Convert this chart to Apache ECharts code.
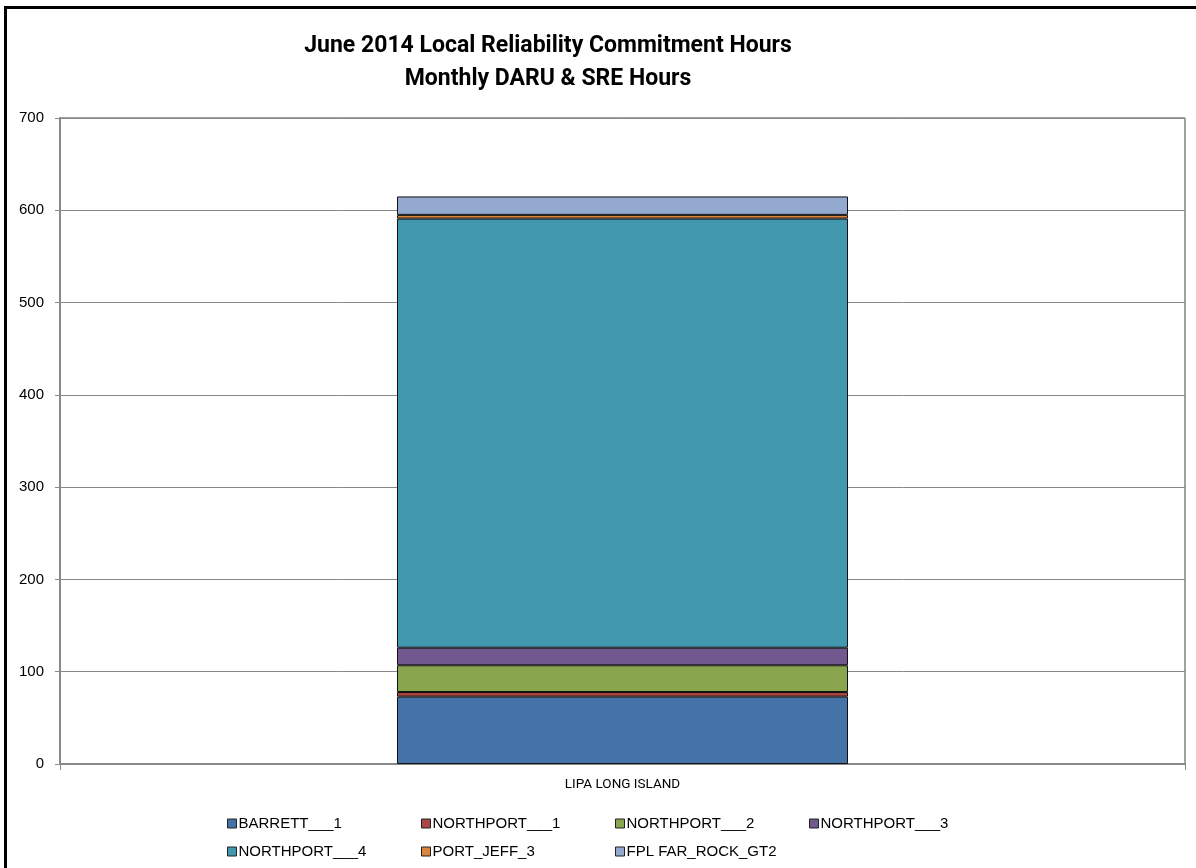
<!DOCTYPE html>
<html><head><meta charset="utf-8">
<script src="https://cdn.jsdelivr.net/npm/echarts@6/dist/echarts.min.js"></script>
<style>html,body{margin:0;padding:0;background:#fff}#c{width:1196px;height:868px}</style>
</head><body><div id="c"></div>
<script>
const categories = ['LIPA LONG ISLAND'];
const seriesNames = ['BARRETT___1','NORTHPORT___1','NORTHPORT___2','NORTHPORT___3','NORTHPORT___4','PORT_JEFF_3','FPL FAR_ROCK_GT2'];
const seriesValues = [[73],[5],[29],[19],[465],[4],[20]];
const colors = ['#4572A7','#AA4643','#89A54E','#71588F','#4198AF','#DB843D','#93A9CF'];
const yTicks = [0,100,200,300,400,500,600,700];

const chart = echarts.init(document.getElementById('c'));
const legendText = {fontFamily:'Liberation Sans, Arial, sans-serif', fontSize:15, color:'#000', padding:[0,0,0,-3]};
const legends = seriesNames.map((n,i)=>({
  data:[n], left:222 + (i%4)*194, top: i<4 ? 811 : 839,
  itemWidth:9, itemHeight:9, itemGap:0, icon:'rect',
  textStyle:legendText, itemStyle:{borderColor:'#222',borderWidth:1}
}));
chart.setOption({
  animation:false,
  color:colors,
  title:{
    text:'June 2014 Local Reliability Commitment Hours\nMonthly DARU & SRE Hours',
    left:543, top:25, textAlign:'center',
    textStyle:{fontFamily:'Roboto, sans-serif', fontWeight:'bold', fontSize:23, lineHeight:33, color:'#000'}
  },
  graphic:[{type:'rect', shape:{x:5.5,y:7.5,width:1200,height:900}, style:{fill:'none',stroke:'#000',lineWidth:3}, silent:true}],
  grid:{left:60, right:11, top:118, bottom:104, show:true, borderColor:'#444', borderWidth:1},
  legend:legends,
  xAxis:{type:'category', data:categories,
    axisLine:{lineStyle:{color:'#888',width:2}},
    axisTick:{show:true, alignWithLabel:false, length:6, lineStyle:{color:'#888'}},
    axisLabel:{fontFamily:'Roboto, sans-serif', fontSize:13.5, color:'#000', margin:14}},
  yAxis:{type:'value', min:0, max:700, interval:100,
    axisLine:{show:true, lineStyle:{color:'#888',width:2}},
    axisTick:{show:true, length:5, lineStyle:{color:'#888'}},
    axisLabel:{fontFamily:'Liberation Sans, Arial, sans-serif', fontSize:15, color:'#000', margin:16,
      formatter:v=>yTicks.includes(v)?String(v):''},
    splitLine:{lineStyle:{color:'#888',width:1}}},
  series: seriesNames.map((n,i)=>({
    name:n, type:'bar', stack:'total', data:seriesValues[i], barWidth:451,
    itemStyle:{color:colors[i], borderColor:'#111', borderWidth:1}
  }))
});
</script></body></html>
